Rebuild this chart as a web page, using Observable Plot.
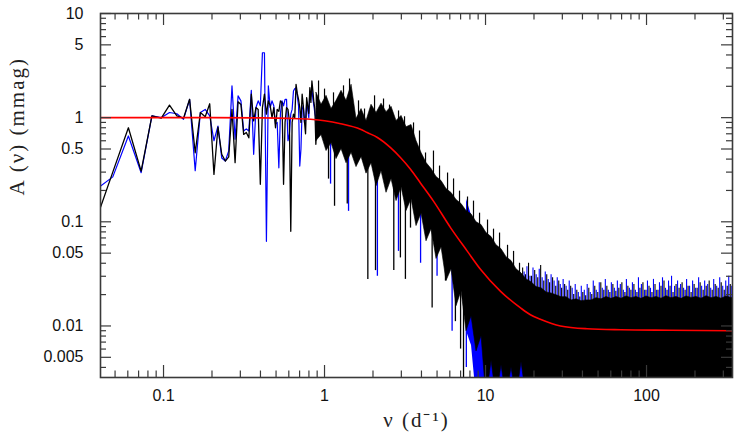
<!DOCTYPE html>
<html><head><meta charset="utf-8">
<script src="https://cdn.jsdelivr.net/npm/d3@7"></script>
<script src="https://cdn.jsdelivr.net/npm/@observablehq/plot@0.6"></script>
<style>body{margin:0;background:#fff}svg{display:block}</style>
</head><body><div id="chart"></div>
<script>
// ---- tick values and labels ----
const xTickLabels = [0.1, 1, 10, 100];
const yTickLabels = [0.005, 0.01, 0.05, 0.1, 0.5, 1, 5, 10];
const xMinorTicks = [0.05,0.06,0.07,0.08,0.09,0.2,0.3,0.4,0.5,0.6,0.7,0.8,0.9,2,3,4,5,6,7,8,9,20,30,40,50,60,70,80,90,200,300];
const yMinorTicks = [0.004,0.006,0.007,0.008,0.009,0.02,0.03,0.04,0.06,0.07,0.08,0.09,0.2,0.3,0.4,0.6,0.7,0.8,0.9,2,3,4,6,7,8,9];

// ---- low-frequency periodogram points (nu in d^-1, amplitude in mmag) ----
const lowNu = [0.0363,0.0484,0.0605,0.0726,0.0847,0.0968,0.1089,0.121,0.1331,0.1452,0.1573,0.1694,0.1815,0.1936,0.2057,0.2178,0.2299,0.242,0.2541,0.2662,0.2783,0.2904,0.3025,0.3146,0.3267,0.3388,0.3509,0.363,0.3751,0.3872,0.3993,0.4114,0.4235,0.4356,0.4477,0.4598,0.4719,0.484,0.4961,0.5082,0.5203,0.5324,0.5445,0.5566,0.5687,0.5808,0.5929,0.605,0.6171,0.6292,0.6413,0.6534,0.6655,0.6776,0.6897,0.7018,0.7139,0.726,0.7381,0.7502,0.7623,0.7744,0.7865,0.7986,0.8107,0.8228,0.8349,0.847,0.8591,0.8712,0.8833,0.8954,0.9075];
const blackLow = [0.084,0.30,0.80,0.307,1.04,0.99,1.32,1.04,0.99,1.50,0.46,1.12,1.02,1.36,0.285,0.81,0.445,0.383,0.42,1.2,0.37,1.42,1.34,0.69,0.72,0.64,1.68,0.93,1.25,1.2,0.229,1.25,1.68,1.08,1.45,1.3,1.0,1.25,0.80,1.2,1.15,1.45,1.4,0.229,0.9,1.25,1.2,0.93,0.081,0.9,1.08,1.0,2.09,1.7,1.5,1.25,0.9,1.68,1.3,0.93,0.7,1.56,1.3,1.1,1.94,1.4,2.25,1.8,1.4,1.2,0.555,0.9,1.1];
const blueLow = [0.194,0.27,0.667,0.296,1.04,1.0,1.12,1.09,0.965,1.50,0.31,1.12,1.20,1.04,0.6,0.83,0.41,0.383,0.48,2.02,0.62,1.62,1.45,0.745,0.78,0.745,1.83,0.445,1.25,1.45,1.3,4.2,4.2,0.065,2.02,1.25,1.45,1.3,0.87,0.9,0.33,1.1,1.45,1.3,1.5,1.5,0.6,0.7,1.08,1.2,1.8,1.9,1.94,1.6,1.3,0.343,0.5,1.2,1.3,0.9,0.95,1.4,1.2,1.0,1.8,1.6,1.9,1.5,1.3,1.1,1.0,0.7,1.0];

// ---- dense part: core of the noise band (upper / lower edge) ----
const denseNu = [0.892,0.958,1.029,1.105,1.187,1.275,1.370,1.472,1.580,1.698,1.823,1.958,2.104,2.259,2.427,2.607,2.800,3.008,3.231,3.470,3.727,4.004,4.300,4.619,4.963,5.331,5.726,6.150,6.606,7.095,7.621,8.185,8.792,9.445,10.14,10.90,11.70,12.57,13.50,14.50,15.58,16.73,17.98,19.31,20.74,22.28,23.93,25.70,27.61,29.65,31.85,34.21,36.75,39.48,42.40,45.54,48.92,52.54,56.44,60.61,65.12,69.94,75.13,80.70,86.68,93.09,100.0,107.4,115.4,123.9,133.1,143.0,153.6,165.0,177.2,190.3,204.5,219.6,235.9,253.3,272.2,292.3,314.0,337.3,362.0];
const blackHi = [1.73,1.33,1.62,1.21,1.45,1.81,1.45,2.07,0.97,1.21,0.93,1.33,1.11,1.36,1.13,1.27,0.93,1.04,0.81,0.85,0.597,0.458,0.367,0.321,0.269,0.246,0.206,0.189,0.162,0.148,0.127,0.118,0.099,0.093,0.078,0.0713,0.0595,0.0546,0.0458,0.042,0.035,0.032,
  0.028,0.0263,0.0236,0.023,0.021,0.0205,0.0197,0.0189,0.0189,0.0176,0.018,0.0173,0.0176,0.0176,0.0185,0.018,0.019,0.0182,0.019,0.0183,0.0192,0.0185,0.019,0.0182,0.0192,0.0185,0.019,0.0183,0.0193,0.0185,0.019,0.0182,0.0192,0.0186,0.019,0.0183,0.0193,0.0185,0.019,0.0183,0.0192,0.0186,0.019];
const blackLo = [0.597,0.68,0.478,0.57,0.40,0.50,0.365,0.46,0.335,0.42,0.29,0.365,0.22,0.307,0.19,0.257,0.158,0.215,0.127,0.165,0.091,0.12,0.065,0.085,0.044,0.057,0.027,0.035,0.0155,0.0216,0.0089,0.0124,0.0057,0.008,0.002,0.0046,0.002,0.0042,0.002,0.004,0.002,0.0045,
  0.002,0.002,0.002,0.002,0.002,0.002,0.002,0.002,0.002,0.002,0.002,0.002,0.002,0.002,0.002,0.002,0.002,0.002,0.002,0.002,0.002,0.002,0.002,0.002,0.002,0.002,0.002,0.002,0.002,0.002,0.002,0.002,0.002,0.002,0.002,0.002,0.002,0.002,0.002,0.002,0.002,0.002,0.002];
// blue band where it drops below the black one (7.6 - 19 d^-1)
const blueNu = denseNu.slice(30, 44);
const blueHi = [0.165,0.115,0.098,0.088,0.077,0.067,0.058,0.051,0.045,0.039,0.034,0.030,0.027,0.025];
const blueLo = [0.0089,0.0065,0.002,0.002,0.002,0.002,0.002,0.002,0.002,0.002,0.002,0.002,0.002,0.002];

// upward needles on the mid-frequency slope: tip and a point inside the band
const midNeedleNu  = [0.918,1.0,1.137,1.312,1.43,1.626,1.772,2.045,2.325,2.533,2.882,3.14,3.571,3.89,4.24,4.75,5.18,5.81,6.33,6.894,7.73,8.42,9.18,10.29,11.21,12.22,13.70,14.93,16.26];
const midNeedleTip = [2.25,1.88,1.73,2.02,2.35,1.45,1.21,1.62,1.51,1.32,1.16,1.02,0.89,0.745,0.458,0.478,0.343,0.294,0.258,0.197,0.173,0.158,0.121,0.104,0.085,0.078,0.0595,0.052,0.040];
const midNeedleIn  = [0.745,0.745,0.7,0.6,0.6,0.5,0.5,0.45,0.4,0.4,0.35,0.3,0.25,0.2,0.2,0.15,0.12,0.1,0.08,0.07,0.06,0.05,0.04,0.035,0.03,0.025,0.02,0.02,0.018];

// high-frequency needles (tips) above the flat noise floor
const hfNeedleBase = 0.012;
const hfNu = [17.0,17.7,18.5,19.3,20.2,21.1,22.0,23.0,24.0,25.0,26.1,27.3,28.5,29.7,31.0,32.4,33.8,35.3,36.9,38.5,40.2,41.9,43.8,45.7,47.7,49.8,52.0,54.3,56.7,59.2,61.8,64.5,67.3,70.3,73.4,76.6,80.0,83.5,87.2,91.0,95.0,99.2,103.6,108.1,112.9,117.8,123.0,128.4,134.1,140.0,146.1,152.6,159.3,166.3,173.6,181.2,189.2,197.5,206.2,215.3,224.8,234.7,245.0,255.8,267.0,278.8,291.0,303.8,317.2,331.2,345.8];
const hfBlackTip = [0.036,0.031,0.040,0.030,0.034,0.029,0.038,0.027,0.031,0.026,0.029,0.024,0.027,0.023,0.025,0.022,0.024,0.020,0.022,0.019,0.021,0.0195,0.023,0.020,0.024,0.021,0.026,0.022,0.024,0.021,0.025,0.0215,0.023,0.026,0.021,0.024,0.022,0.025,0.021,0.023,0.026,0.022,0.024,0.021,0.025,0.022,0.024,0.027,0.022,0.024,0.021,0.025,0.023,0.026,0.022,0.024,0.021,0.025,0.023,0.026,0.022,0.024,0.027,0.022,0.025,0.023,0.026,0.022,0.024,0.025,0.023];
const hfBlueTip = [0.033,0.037,0.030,0.036,0.031,0.035,0.029,0.033,0.028,0.031,0.027,0.029,0.025,0.028,0.024,0.027,0.023,0.025,0.021,0.024,0.022,0.025,0.021,0.027,0.022,0.026,0.023,0.028,0.022,0.026,0.023,0.027,0.025,0.022,0.028,0.023,0.026,0.022,0.029,0.025,0.022,0.027,0.023,0.028,0.022,0.026,0.029,0.023,0.027,0.030,0.024,0.027,0.025,0.023,0.028,0.024,0.027,0.023,0.029,0.024,0.027,0.025,0.023,0.028,0.024,0.029,0.024,0.027,0.030,0.024,0.027];

// deep single-bin dips below the band
const blackSpikeNu = [1.059,1.154,1.384,1.858,2.073,2.693,2.96,3.18,3.42,4.66,5.64,6.5,7.0,7.3];
const blackSpikeLow = [0.257,0.141,0.148,0.028,0.034,0.034,0.045,0.028,0.087,0.0149,0.027,0.011,0.006,0.003];
const blackSpikeHigh = [0.7,0.6,0.6,0.45,0.4,0.3,0.3,0.25,0.25,0.12,0.1,0.06,0.04,0.03];
const blueSpikeNu = [1.09,1.41,2.13,2.88,3.95,5.0,6.2,7.6];
const blueSpikeLow = [0.23,0.126,0.030,0.052,0.040,0.030,0.0089,0.004];
const blueSpikeHigh = [0.6,0.5,0.3,0.3,0.2,0.1,0.05,0.02];

// ---- fitted model (red) ----
const redNu = [0.0406,0.2,0.4,0.6,0.82,1.0,1.26,1.67,1.84,2.13,2.57,2.97,3.42,3.95,4.75,6.06,7.7,9.3,12.4,16.5,19.0,21.9,29.2,42.7,69,141,342];
const redA  = [1.0,1.0,0.995,0.985,0.965,0.935,0.875,0.775,0.72,0.645,0.515,0.412,0.32,0.235,0.158,0.088,0.0523,0.035,0.0215,0.0149,0.0128,0.0116,0.0100,0.0094,0.0092,0.0091,0.0090];

const W = 743, H = 445, mL = 100, mR = 11, mT = 13, mB = 68;
const pw = W - mL - mR, ph = H - mT - mB;
const axisCol = "#3a3a3a";
const sans = "Liberation Sans, Arial, Helvetica, sans-serif";
const serif = "Liberation Serif, Times New Roman, serif";

const chart = Plot.plot({
  width: W, height: H,
  marginLeft: mL, marginRight: mR, marginTop: mT, marginBottom: mB,
  style: {fontFamily: sans, fontSize: "16px", background: "#fff", color: "#111"},
  x: {type: "log", domain: [0.0406, 342], axis: null},
  y: {type: "log", domain: [0.0032, 10], axis: null},
  marks: [
    Plot.line(lowNu, {x: lowNu, y: blueLow, stroke: "#0000ff", strokeWidth: 1.2, clip: true}),
    Plot.line(lowNu, {x: lowNu, y: blackLow, stroke: "#000", strokeWidth: 1.3, clip: true}),
    Plot.areaY(blueNu, {x: blueNu, y1: blueLo, y2: blueHi, fill: "#0000ff", clip: true}),
    Plot.ruleX(blueSpikeNu, {x: blueSpikeNu, y1: blueSpikeLow, y2: blueSpikeHigh, stroke: "#0000ff", strokeWidth: 1.3, clip: true}),
    Plot.ruleX(hfNu, {x: hfNu, y1: hfNeedleBase, y2: hfBlueTip, dx: 1.5, stroke: "#0000ff", strokeWidth: 1.1, clip: true}),
    Plot.areaY(denseNu, {x: denseNu, y1: blackLo, y2: blackHi, fill: "#000", stroke: "#000", strokeWidth: 0.6, clip: true}),
    Plot.ruleX(hfNu, {x: hfNu, y1: hfNeedleBase, y2: hfBlackTip, stroke: "#000", strokeWidth: 1.1, clip: true}),
    Plot.ruleX(midNeedleNu, {x: midNeedleNu, y1: midNeedleIn, y2: midNeedleTip, stroke: "#000", strokeWidth: 1.2, clip: true}),
    Plot.ruleX(blackSpikeNu, {x: blackSpikeNu, y1: blackSpikeLow, y2: blackSpikeHigh, stroke: "#000", strokeWidth: 1.3, clip: true}),
    Plot.line(redNu, {x: redNu, y: redA, stroke: "#ff0000", strokeWidth: 1.6, curve: "monotone-x", clip: true}),
    // ticks (inward, on all four sides)
    Plot.tickX(xTickLabels, {insetTop: ph - 12, stroke: axisCol, strokeWidth: 1.2}),
    Plot.tickX(xTickLabels, {insetBottom: ph - 12, stroke: axisCol, strokeWidth: 1.2}),
    Plot.tickX(xMinorTicks, {insetTop: ph - 6.5, stroke: axisCol, strokeWidth: 1.2}),
    Plot.tickX(xMinorTicks, {insetBottom: ph - 6.5, stroke: axisCol, strokeWidth: 1.2}),
    Plot.tickY(yTickLabels, {insetRight: pw - 11, stroke: axisCol, strokeWidth: 1.2}),
    Plot.tickY(yTickLabels, {insetLeft: pw - 11, stroke: axisCol, strokeWidth: 1.2}),
    Plot.tickY(yMinorTicks, {insetRight: pw - 6, stroke: axisCol, strokeWidth: 1.2}),
    Plot.tickY(yMinorTicks, {insetLeft: pw - 6, stroke: axisCol, strokeWidth: 1.2}),
    Plot.frame({stroke: axisCol, strokeWidth: 1.6}),
    // tick labels
    Plot.text(xTickLabels, {x: d => d, text: d => String(d), frameAnchor: "bottom", dy: 23, fontSize: 16, fontFamily: sans, fill: "#111"}),
    Plot.text(yTickLabels, {y: d => d, text: d => String(d), frameAnchor: "left", dx: -17, textAnchor: "end", fontSize: 16, fontFamily: sans, fill: "#111"}),
    // axis titles
    Plot.text(["A (ν) (mmag)"], {text: d => d, frameAnchor: "left", dx: -83, rotate: -90, fontSize: 21, fontFamily: serif, fill: "#222"}),
    Plot.text(["ν (d⁻¹)"], {text: d => d, frameAnchor: "bottom", dy: 49, fontSize: 21, fontFamily: serif, fill: "#222"})
  ]
});
chart.querySelectorAll("text").forEach(t => {
  if (t.textContent.includes("mmag") || t.textContent.includes("d⁻¹")) t.style.letterSpacing = "2px";
});
document.getElementById("chart").appendChild(chart);
</script>
</body></html>
